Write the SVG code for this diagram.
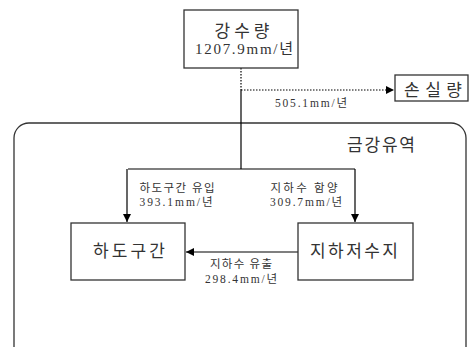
<svg xmlns="http://www.w3.org/2000/svg" width="470" height="347" viewBox="0 0 470 347">
<style>
.box{fill:#fff;stroke:#333;stroke-width:1.3}
.ln{fill:none;stroke:#000;stroke-width:1.2}
.dot{fill:none;stroke:#000;stroke-width:1.2;stroke-dasharray:1.5 1.5}
text{font-family:"Liberation Serif","Noto Sans CJK KR",serif;fill:#333;text-anchor:middle}
.big{font-size:17px}
.mid{font-size:15px}
.sm{font-size:11.5px}
</style>
<defs>
<marker id="ah" viewBox="0 0 10 10" refX="10" refY="5" markerWidth="8" markerHeight="8" markerUnits="userSpaceOnUse" orient="auto">
<path d="M0,0 L10,5 L0,10 z" fill="#000"/>
</marker>
</defs>
<g id="basin">
<rect x="14" y="123" width="452" height="240" rx="15" ry="15" fill="none" stroke="#333" stroke-width="1.3"/>
<text class="big" x="381" y="151" textLength="68" lengthAdjust="spacing">금강유역</text>
</g>
<g id="connectors">
<path class="dot" d="M241,68 V90"/>
<path class="ln" d="M241,90 V169"/>
<path class="dot" d="M241,90 H394" marker-end="url(#ah)"/>
<path class="ln" d="M128,169 H355"/>
<path class="ln" d="M127,169 V222" marker-end="url(#ah)"/>
<path class="ln" d="M355,169 V222" marker-end="url(#ah)"/>
<path class="ln" d="M298,252 H186" marker-end="url(#ah)"/>
<text class="sm" x="311" y="107" textLength="72" lengthAdjust="spacing">505.1mm/년</text>
<text class="sm" x="177" y="192" textLength="75" lengthAdjust="spacing">하도구간 유입</text>
<text class="sm" x="176" y="206" textLength="73" lengthAdjust="spacing">393.1mm/년</text>
<text class="sm" x="304" y="192" textLength="67" lengthAdjust="spacing">지하수 함양</text>
<text class="sm" x="306" y="206" textLength="72" lengthAdjust="spacing">309.7mm/년</text>
<text class="sm" x="241" y="268" textLength="62" lengthAdjust="spacing">지하수 유출</text>
<text class="sm" x="241" y="283" textLength="72" lengthAdjust="spacing">298.4mm/년</text>
</g>
<g id="rainfall">
<rect class="box" x="184" y="10" width="114" height="58"/>
<text class="big" x="242" y="37" textLength="55" lengthAdjust="spacing">강수량</text>
<text class="mid" x="244" y="54" textLength="98" lengthAdjust="spacing">1207.9mm/년</text>
</g>
<g id="loss">
<rect class="box" x="395" y="75" width="73" height="26"/>
<text class="big" x="433" y="96" textLength="58" lengthAdjust="spacing">손실량</text>
</g>
<g id="channel">
<rect class="box" x="71" y="223" width="114" height="57"/>
<text class="big" x="129" y="257" textLength="72" lengthAdjust="spacing">하도구간</text>
</g>
<g id="groundwater">
<rect class="box" x="298" y="223" width="115" height="57"/>
<text class="big" x="354" y="257" textLength="88" lengthAdjust="spacing">지하저수지</text>
</g>
</svg>
